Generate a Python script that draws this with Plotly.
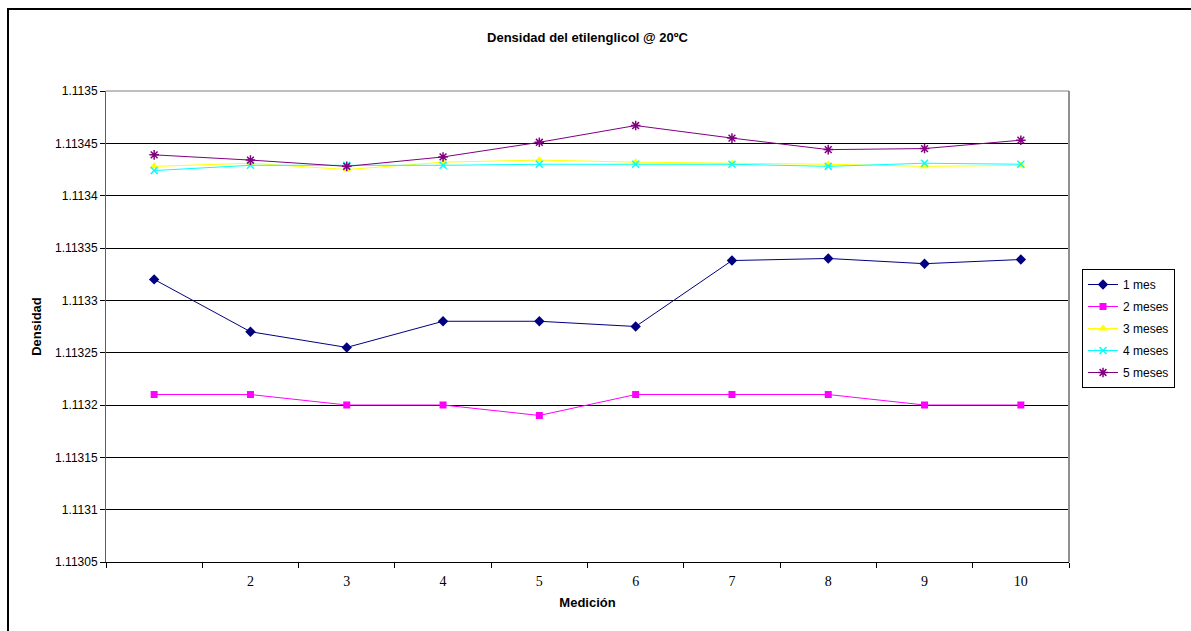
import plotly.graph_objects as go

mediciones = [1, 2, 3, 4, 5, 6, 7, 8, 9, 10]
tick_labels_x = ["", "2", "3", "4", "5", "6", "7", "8", "9", "10"]

mes1 = [1.11332, 1.11327, 1.113255, 1.11328, 1.11328, 1.113275, 1.113338, 1.11334, 1.113335, 1.113339]
mes2 = [1.11321, 1.11321, 1.11320, 1.11320, 1.11319, 1.11321, 1.11321, 1.11321, 1.11320, 1.11320]
mes3 = [1.113428, 1.113431, 1.113425, 1.113432, 1.113434, 1.113432, 1.113431, 1.11343, 1.113428, 1.113429]
mes4 = [1.113424, 1.113429, 1.113429, 1.113429, 1.11343, 1.11343, 1.11343, 1.113428, 1.113431, 1.11343]
mes5 = [1.113439, 1.113434, 1.113428, 1.113437, 1.113451, 1.113467, 1.113455, 1.113444, 1.113445, 1.113453]

y_ticks = [1.11305, 1.1131, 1.11315, 1.1132, 1.11325, 1.1133, 1.11335, 1.1134, 1.11345, 1.1135]
y_tick_labels = ["1.11305", "1.1131", "1.11315", "1.1132", "1.11325", "1.1133", "1.11335", "1.1134", "1.11345", "1.1135"]

series = [
    ("1 mes", mes1, "#000080", "diamond", 8),
    ("2 meses", mes2, "#FF00FF", "square", 7),
    ("3 meses", mes3, "#FFFF00", "triangle-up", 8),
    ("4 meses", mes4, "#00FFFF", "x-thin", 7),
    ("5 meses", mes5, "#800080", "asterisk", 8),
]

SANS = "Arial, Liberation Sans, sans-serif"
SERIF = "Times New Roman, Liberation Serif, serif"

fig = go.Figure()
for i, (name, vals, color, sym, size) in enumerate(series):
    marker = dict(symbol=sym, size=size, color=color, line=dict(width=0, color=color))
    if sym in ("x-thin", "asterisk"):
        marker["line"] = dict(width=1.5, color=color)
    fig.add_trace(go.Scatter(
        x=mediciones, y=vals, name=name, mode="lines+markers",
        line=dict(color=color, width=1), marker=marker,
        legendgroup=f"g{i}",
    ))

W, H = 1191, 631
L, R, T, B = 106, 1069, 91, 562
pw, ph = R - L, B - T

def px(x):
    return (x - L) / pw

def py(y):
    return (B - y) / ph

fig.update_layout(
    width=W, height=H,
    margin=dict(l=L, r=W - R, t=T, b=H - B),
    paper_bgcolor="white", plot_bgcolor="white",
    font=dict(family=SANS, size=12, color="black"),
    showlegend=True,
    legend=dict(
        x=px(1082), y=py(269), xanchor="left", yanchor="top",
        bordercolor="black", borderwidth=1, bgcolor="white",
        font=dict(family=SANS, size=12, color="black"),
        tracegroupgap=3, traceorder="grouped",
    ),
    xaxis=dict(
        range=[0.5, 10.5], tickmode="array", tickvals=mediciones, ticktext=tick_labels_x,
        ticks="", showgrid=False, zeroline=False,
        showline=True, linecolor="black", linewidth=1, mirror=False,
        tickfont=dict(family=SERIF, size=14, color="black"),
        ticklabelstandoff=6,
        minor=dict(tickmode="array", tickvals=[0.5 + k for k in range(11)],
                   ticks="outside", ticklen=5, tickcolor="black", tickwidth=1, showgrid=False),
        title=dict(text="<b>Medición</b>", font=dict(family=SANS, size=13, color="black"), standoff=10),
    ),
    yaxis=dict(
        range=[1.11305, 1.1135], tickmode="array", tickvals=y_ticks, ticktext=y_tick_labels,
        ticks="outside", ticklen=5, tickcolor="black",
        showgrid=True, gridcolor="black", gridwidth=1, zeroline=False,
        showline=True, linecolor="#606060", linewidth=1,
        tickfont=dict(family=SANS, size=12, color="black"),
        title=dict(text="<b>Densidad</b>", font=dict(family=SANS, size=13, color="black"), standoff=10),
    ),
    title=dict(text="<b>Densidad del etilenglicol @ 20ºC</b>", x=0.5, xref="paper",
               y=1 - 37 / H, yanchor="middle",
               font=dict(family=SANS, size=13, color="black")),
    shapes=[
        dict(type="line", xref="paper", yref="paper", x0=1, x1=1, y0=0, y1=1,
             line=dict(color="#909090", width=2)),
        dict(type="line", xref="paper", yref="paper", x0=0, x1=1, y0=1, y1=1,
             line=dict(color="#808080", width=1)),
        dict(type="rect", xref="paper", yref="paper",
             x0=px(8), x1=px(1200), y0=py(9), y1=py(645),
             line=dict(color="black", width=2), fillcolor="rgba(0,0,0,0)", layer="above"),
    ],
)

fig.write_html("out.html")
